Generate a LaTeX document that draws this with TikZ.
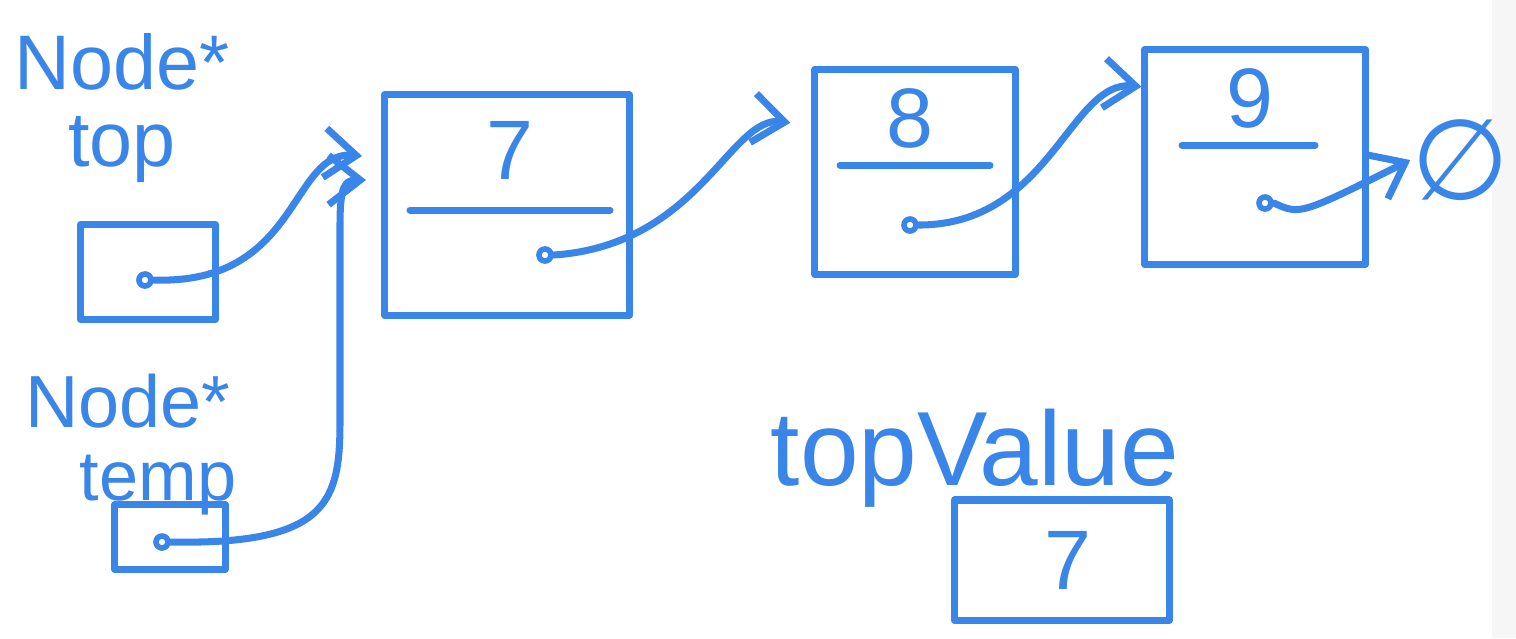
\documentclass[tikz,border=0pt]{standalone}
\usepackage{fontspec}
\setmainfont{Liberation Sans}
\usepackage{tikz}
\usetikzlibrary{arrows.meta, positioning}
\definecolor{pen}{HTML}{3A86E8}
\newfontfamily\symfont{DejaVu Sans}

\tikzset{
  ink/.style={draw=pen, line width=2pt, line cap=round, line join=round},
  cell/.style={ink, rectangle, inner sep=0pt},
  lbl/.style={text=pen, inner sep=0pt, font=\fontsize{24}{24}\selectfont},
  ptr/.style={ink, -{Straight Barb[length=9pt, width=14pt, line width=2pt]}},
  knot/.style={circle, draw=pen, line width=1.6pt, inner sep=0pt, minimum size=0.12cm},
}

\begin{document}
\begin{tikzpicture}[x=0.01cm, y=-0.01cm]
  \useasboundingbox (0,0) rectangle (1516,638);
  \fill[gray!7] (1492,0) rectangle (1516,638);
  % pointer variables
  \node[lbl, font=\fontsize{22}{22}\selectfont] (topType) at (122,62) {Node*};
  \node[lbl, font=\fontsize{22}{22}\selectfont] (topName) at (122,150) {top};
  \node[cell, minimum width=1.35cm, minimum height=0.95cm] (topBox) at (148,272) {};
  \node[knot] (topDot) at (145,280) {};
  \node[lbl, font=\fontsize{21}{21}\selectfont] (tempType) at (128,401) {Node*};
  \node[lbl, font=\fontsize{20}{20}\selectfont] (tempName) at (158,485) {temp};
  \node[cell, minimum width=1.1cm, minimum height=0.65cm] (tempBox) at (170,537) {};
  \node[knot] (tempDot) at (162,542) {};
  % list nodes
  \node[cell, minimum width=2.45cm, minimum height=2.2cm] (seven) at (507,205) {};
  \draw[ink] (410,210) -- (610,210);
  \node[lbl] (sevenVal) at (510,150) {7};
  \node[knot] (sevenDot) at (545,255) {};
  \node[cell, minimum width=2.0cm, minimum height=2.05cm] (eight) at (915,172) {};
  \draw[ink] (840,165) -- (990,165);
  \node[lbl] (eightVal) at (910,118) {8};
  \node[knot] (eightDot) at (910,225) {};
  \node[cell, minimum width=2.2cm, minimum height=2.15cm] (nine) at (1255,157) {};
  \draw[ink] (1182,145) -- (1315,145);
  \node[lbl] (nineVal) at (1250,98) {9};
  \node[knot] (nineDot) at (1265,203) {};
  \node[text=pen, inner sep=0pt, font=\symfont\fontsize{32}{32}\selectfont] (null) at (1460,160) {∅};
  % saved value
  \node[lbl, font=\fontsize{30}{30}\selectfont] (valName) at (975,458) {topValue};
  \node[cell, minimum width=2.15cm, minimum height=1.2cm] (valBox) at (1062,560) {};
  \node[lbl] (valVal) at (1068,560) {7};
  % links
  \coordinate (inTop) at (362,156);
  \coordinate (inTemp) at (366,180);
  \draw[ptr] (topDot.east) .. controls (300,285) and (290,150) .. (inTop);
  \draw[ptr] (tempDot.east) .. controls (330,545) and (340,500) .. (340,420) -- (340,225) .. controls (340,185) and (345,180) .. (inTemp);
  \draw[ptr] (sevenDot.east) .. controls (700,245) and (730,115) .. ([xshift=-6pt, yshift=14pt]eight.west);
  \draw[ptr] (eightDot.east) .. controls (1050,225) and (1070,80) .. ([yshift=20pt]nine.west);
  \draw[ptr] (nineDot.east) .. controls (1300,215) .. (null.west);
\end{tikzpicture}
\end{document}
